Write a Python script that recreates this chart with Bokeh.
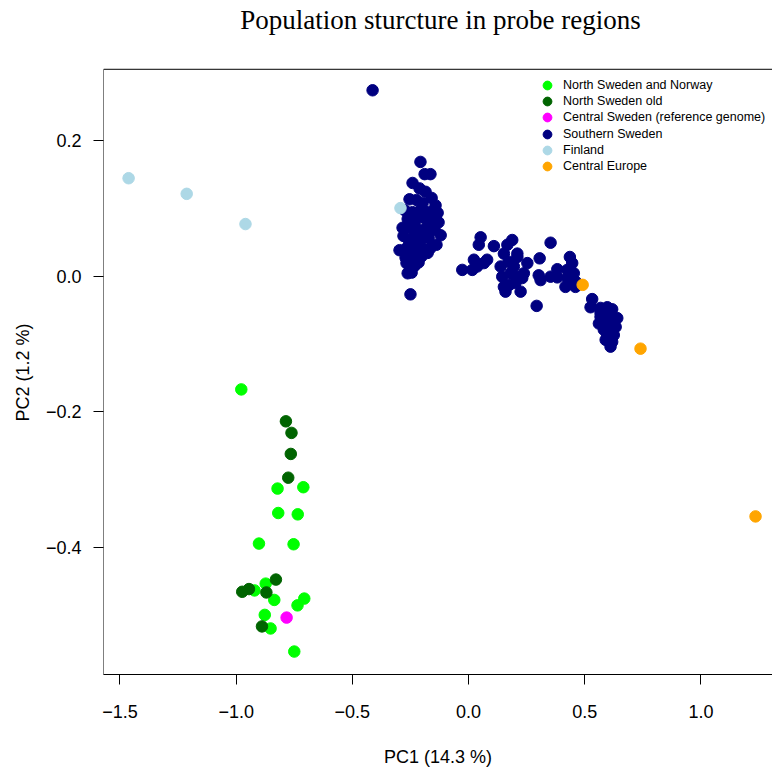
from bokeh.plotting import figure
from bokeh.models import Range1d, Legend, LegendItem, FixedTicker, Label, BoxAnnotation
from bokeh.embed import file_html
from bokeh.resources import INLINE

# ---- data (PC1, PC2) ----
north_norway_x = [-0.978, -0.822, -0.711, -0.819, -0.735, -0.902, -0.753, -0.873, -0.921,
                  -0.836, -0.707, -0.736, -0.877, -0.852, -0.750]
north_norway_y = [-0.167, -0.313, -0.311, -0.349, -0.351, -0.394, -0.395, -0.453, -0.463,
                  -0.477, -0.475, -0.485, -0.499, -0.519, -0.553]

north_old_x = [-0.786, -0.762, -0.765, -0.776, -0.829, -0.945, -0.974, -0.870, -0.889]
north_old_y = [-0.214, -0.231, -0.262, -0.297, -0.447, -0.461, -0.465, -0.466, -0.516]

central_sweden_x = [-0.783]
central_sweden_y = [-0.503]

southern_x = [
    -0.413,
    -0.207, -0.189, -0.164, -0.241, -0.211, -0.185, -0.254, -0.159, -0.224, -0.198,
    -0.142, -0.275, -0.241, -0.207, -0.172, -0.133, -0.262, -0.228, -0.189, -0.155,
    -0.129, -0.284, -0.250, -0.215, -0.181, -0.146, -0.280, -0.241, -0.207, -0.172,
    -0.120, -0.297, -0.267, -0.232, -0.198, -0.164, -0.271, -0.237, -0.202, -0.176,
    -0.267, -0.232, -0.262, -0.250, -0.138, -0.220, -0.190, -0.255, -0.225, -0.160,
    -0.215, -0.245,
    0.052, 0.044, 0.109, -0.027, 0.016, 0.023, 0.066, 0.037, 0.080, 0.152,
    0.188, 0.167, 0.145, 0.159, 0.224, 0.253, 0.231, 0.195, 0.210, 0.138,
    0.181, 0.210, 0.152, 0.238, 0.210, 0.172, 0.202, 0.176,
    0.353, 0.306, 0.310, 0.302, 0.293, 0.353, 0.382, 0.382, 0.436, 0.446,
    0.425, 0.453, 0.425, 0.417, 0.460, 0.460, 0.439,
    0.532, 0.525, 0.568, 0.597, 0.618, 0.640, 0.582, 0.633, 0.582, 0.597,
    0.625, 0.618, 0.611, 0.568, 0.561, 0.602, 0.611, 0.590, 0.568, 0.618,
]
southern_y = [
    0.2735,
    0.168, 0.150, 0.150, 0.137, 0.129, 0.124, 0.113, 0.115, 0.112, 0.107,
    0.104, 0.097, 0.094, 0.097, 0.094, 0.093, 0.084, 0.082, 0.085, 0.079,
    0.079, 0.071, 0.071, 0.068, 0.071, 0.068, 0.059, 0.056, 0.053, 0.056,
    0.060, 0.038, 0.041, 0.038, 0.041, 0.041, 0.027, 0.027, 0.029, 0.034,
    0.019, 0.015, 0.004, -0.027, 0.046, 0.060, 0.062, 0.050, 0.048, 0.088,
    0.020, 0.005,
    0.057, 0.046, 0.044, 0.009, 0.009, 0.024, 0.019, 0.014, 0.024, 0.033,
    0.053, 0.046, -0.001, -0.023, -0.023, 0.019, -0.003, 0.014, 0.028, 0.014,
    0.004, -0.001, -0.016, 0.004, 0.033, 0.021, -0.010, -0.013,
    0.049, 0.026, -0.006, 0.001, -0.044, -0.001, 0.010, -0.002, 0.028, 0.019,
    0.009, 0.004, -0.003, -0.016, -0.008, -0.016, -0.006,
    -0.034, -0.046, -0.047, -0.046, -0.049, -0.062, -0.065, -0.075, -0.079, -0.087,
    -0.087, -0.097, -0.104, -0.060, -0.070, -0.057, -0.072, -0.094, -0.054, -0.079,
]

finland_x = [-1.463, -1.213, -0.960, -0.293]
finland_y = [0.144, 0.121, 0.0765, 0.100]

central_europe_x = [0.491, 0.740, 1.235]
central_europe_y = [-0.013, -0.107, -0.354]

x_ticks = [-1.5, -1.0, -0.5, 0.0, 0.5, 1.0]
x_tick_labels = ["\u22121.5", "\u22121.0", "\u22120.5", "0.0", "0.5", "1.0"]
y_ticks = [-0.4, -0.2, 0.0, 0.2]
y_tick_labels = ["\u22120.4", "\u22120.2", "0.0", "0.2"]

title_text = "Population sturcture in probe regions"
x_label = "PC1 (14.3 %)"
y_label = "PC2 (1.2 %)"

X_START, X_END = -1.571, 1.308
Y_START, Y_BOX_TOP = -0.5868, 0.3044
Y_END = 0.4057  # frame reaches the top of the canvas so the title can sit in it

p = figure(width=772, height=769, output_backend="svg", toolbar_location=None,
           x_range=Range1d(X_START, X_END), y_range=Range1d(Y_START, Y_END),
           min_border_left=103, min_border_right=0, min_border_top=0, min_border_bottom=94)
p.outline_line_color = None
p.xgrid.visible = False
p.ygrid.visible = False
p.background_fill_color = "white"
p.border_fill_color = "white"

# plot box (left, bottom, top; the right side lies outside the canvas as in the original)
p.add_layout(BoxAnnotation(top=Y_BOX_TOP, right=X_END + 1.0, fill_alpha=0,
                           line_color="black", line_width=1, line_alpha=1))

# main title
p.add_layout(Label(x=337, y=655, x_units="screen", y_units="screen", text=title_text,
                   text_align="center", text_baseline="alphabetic",
                   text_font="Liberation Serif", text_font_size="27px", text_color="black"))

for ax, ticks, labels in ((p.xaxis[0], x_ticks, x_tick_labels), (p.yaxis[0], y_ticks, y_tick_labels)):
    ax.ticker = FixedTicker(ticks=ticks)
    ax.major_label_overrides = {t: l for t, l in zip(ticks, labels)}
    ax.major_tick_out = 10
    ax.major_tick_in = 0
    ax.minor_tick_line_color = None
    ax.axis_line_color = None
    ax.major_tick_line_color = "black"
    ax.major_label_text_font = "Liberation Sans"
    ax.major_label_text_font_size = "18px"
    ax.major_label_text_color = "black"
    ax.axis_label_text_font = "Liberation Sans"
    ax.axis_label_text_font_size = "18px"
    ax.axis_label_text_font_style = "normal"
    ax.axis_label_text_color = "black"

p.xaxis.axis_label = x_label
# trailing no-break spaces centre the visible label on the plot box rather than the taller frame
p.yaxis.axis_label = y_label + "\u00a0" * 14
p.xaxis.axis_line_color = "black"
p.xaxis.major_label_standoff = 20
p.xaxis.axis_label_standoff = 26
p.yaxis.major_label_standoff = 12
p.yaxis.major_label_orientation = "horizontal"
p.yaxis.axis_label_standoff = 10

SZ = 11.5
r_south = p.scatter(southern_x, southern_y, size=SZ, color="#000080")
r_fin = p.scatter(finland_x, finland_y, size=SZ, color="#ADD8E6")
r_ce = p.scatter(central_europe_x, central_europe_y, size=SZ, color="#FFA500")
r_nn = p.scatter(north_norway_x, north_norway_y, size=SZ, color="#00FF00")
r_old = p.scatter(north_old_x, north_old_y, size=SZ, color="#006400")
r_cs = p.scatter(central_sweden_x, central_sweden_y, size=SZ, color="#FF00FF")

legend_entries = [
    ("North Sweden and Norway", r_nn),
    ("North Sweden old", r_old),
    ("Central Sweden (reference genome)", r_cs),
    ("Southern Sweden", r_south),
    ("Finland", r_fin),
    ("Central Europe", r_ce),
]
for i, (label, rend) in enumerate(legend_entries):
    lg = Legend(items=[LegendItem(label=label, renderers=[rend])],
                location=(433, 578 - 16.2 * i))
    lg.padding = 0
    lg.margin = 0
    lg.border_line_color = None
    lg.background_fill_alpha = 0
    lg.glyph_width = 22
    lg.glyph_height = 22
    lg.label_height = 16
    lg.spacing = 0
    lg.label_standoff = 5
    lg.label_text_font = "Liberation Sans"
    lg.label_text_font_size = "12.5px"
    lg.label_text_color = "black"
    p.add_layout(lg)

open("out.html", "w").write(file_html(p, INLINE))
